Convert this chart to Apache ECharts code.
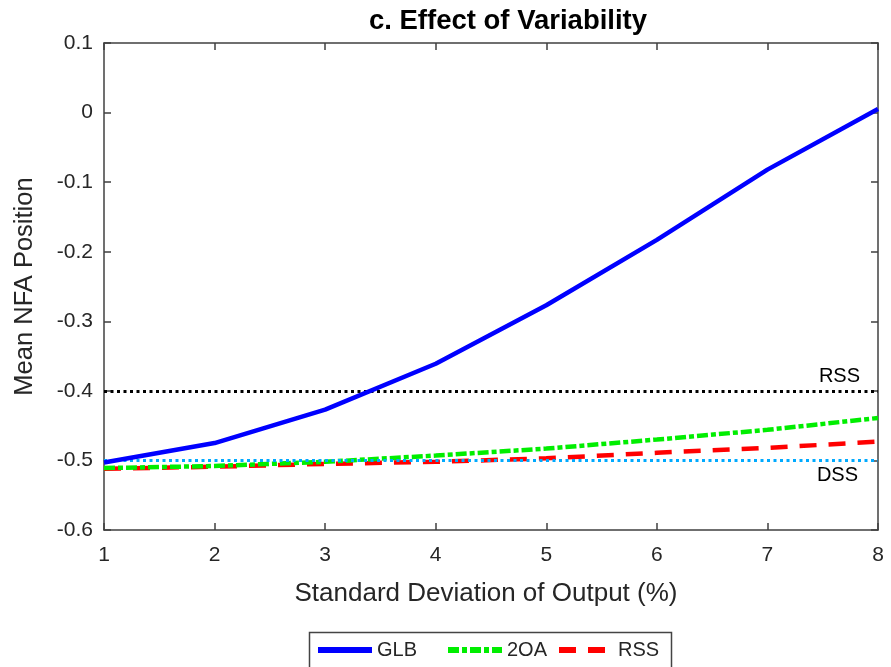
<!DOCTYPE html>
<html>
<head>
<meta charset="utf-8">
<script src="https://cdn.jsdelivr.net/npm/echarts@6/dist/echarts.min.js"></script>
<style>
  html, body { margin: 0; padding: 0; background: #fff; }
  #chart { width: 891px; height: 667px; }
</style>
</head>
<body>
<div id="chart"></div>
<script>
// Standard deviation of output (%)
const sdOutput = [1, 2, 3, 4, 5, 6, 7, 8];
// Mean NFA position for each model
const glb = [-0.503, -0.475, -0.427, -0.361, -0.277, -0.183, -0.082, 0.005];
const soa = [-0.511, -0.508, -0.502, -0.493, -0.483, -0.470, -0.456, -0.439];
const rss = [-0.512, -0.509, -0.505, -0.502, -0.497, -0.489, -0.482, -0.473];
// Steady-state reference levels
const rssLevel = -0.400;
const dssLevel = -0.496;
const seriesNames = ['GLB', '2OA', 'RSS'];

const pairs = ys => sdOutput.map((x, i) => [x, ys[i]]);
const FONT = '"Liberation Sans", Arial, Helvetica, sans-serif';
const INK = '#262626';
const AXIS = '#404040';

const chart = echarts.init(document.getElementById('chart'), null, { renderer: 'canvas' });

const yLabel = v => {
  const r = Math.round(v * 10) / 10;
  return r === 0 ? '0' : r.toFixed(1);
};

const boxAxisLine = { show: true, onZero: false, lineStyle: { color: AXIS, width: 1.5 } };
const boxTick = { show: true, inside: true, length: 7, lineStyle: { color: AXIS, width: 1.5 } };

// one legend entry per column inside a shared framed box
const legendColumns = [315, 445, 556];
const legends = seriesNames.map((n, i) => ({
  top: 640,
  left: legendColumns[i],
  padding: 0,
  itemWidth: 54,
  itemHeight: 10,
  itemStyle: { opacity: 0 },
  lineStyle: { width: 6 },
  textStyle: { fontFamily: FONT, fontSize: 20, color: INK },
  data: [n]
}));

chart.setOption({
  animation: false,
  backgroundColor: '#fff',
  title: {
    text: 'c. Effect of Variability',
    left: 503,
    textAlign: 'center',
    top: 2,
    textStyle: { fontFamily: FONT, fontSize: 27.5, fontWeight: 'bold', color: '#000' }
  },
  grid: { left: 104, right: 13, top: 43, bottom: 137, show: false },
  graphic: [{
    type: 'rect',
    left: 307,
    top: 630,
    shape: { width: 362, height: 60 },
    style: { fill: 'none', stroke: '#444', lineWidth: 1.5 },
    silent: true
  }],
  legend: legends,
  xAxis: [{
    type: 'value',
    min: 1, max: 8, interval: 1,
    name: 'Standard Deviation of Output (%)',
    nameLocation: 'middle',
    nameGap: 51,
    nameTextStyle: { fontFamily: FONT, fontSize: 26, color: INK, padding: [0, 10, 0, 0] },
    axisLine: boxAxisLine,
    axisTick: boxTick,
    axisLabel: { fontFamily: FONT, fontSize: 21, color: INK, margin: 15 },
    splitLine: { show: false }
  }, {
    type: 'value',
    position: 'top',
    min: 1, max: 8, interval: 1,
    axisLine: boxAxisLine,
    axisTick: boxTick,
    axisLabel: { show: false },
    splitLine: { show: false }
  }],
  yAxis: [{
    type: 'value',
    min: -0.6, max: 0.1, interval: 0.1,
    name: 'Mean NFA Position',
    nameLocation: 'middle',
    nameGap: 66,
    nameTextStyle: { fontFamily: FONT, fontSize: 25.5, color: INK },
    axisLine: boxAxisLine,
    axisTick: boxTick,
    axisLabel: { fontFamily: FONT, fontSize: 21, color: INK, margin: 11, formatter: yLabel },
    splitLine: { show: false }
  }, {
    type: 'value',
    position: 'right',
    min: -0.6, max: 0.1, interval: 0.1,
    axisLine: boxAxisLine,
    axisTick: boxTick,
    axisLabel: { show: false },
    splitLine: { show: false }
  }],
  series: [
    {
      name: seriesNames[0],
      type: 'line',
      data: pairs(glb),
      symbol: 'none',
      lineStyle: { color: '#0000ff', width: 4.5 },
      itemStyle: { color: '#0000ff' },
      z: 5
    },
    {
      name: seriesNames[1],
      type: 'line',
      data: pairs(soa),
      symbol: 'none',
      lineStyle: { color: '#00ee00', width: 4.5, type: [11, 3, 5, 3] },
      itemStyle: { color: '#00ee00' },
      z: 4
    },
    {
      name: seriesNames[2],
      type: 'line',
      data: pairs(rss),
      symbol: 'none',
      lineStyle: { color: '#ff0000', width: 4.5, type: [17, 12] },
      itemStyle: { color: '#ff0000' },
      z: 3,
      markLine: {
        silent: true,
        symbol: 'none',
        animation: false,
        data: [
          {
            yAxis: rssLevel,
            lineStyle: { color: '#000', width: 3, type: [3, 3.5] },
            label: {
              show: true, position: 'insideEndTop', formatter: 'RSS',
              fontFamily: FONT, fontSize: 20, color: '#000', distance: [18, 4]
            }
          },
          {
            yAxis: dssLevel,
            lineStyle: { color: '#00aaff', width: 3, type: [3, 3.5] },
            label: {
              show: true, position: 'insideEndBottom', formatter: 'DSS',
              fontFamily: FONT, fontSize: 20, color: '#000', distance: [20, 5]
            }
          }
        ]
      }
    }
  ]
});
</script>
</body>
</html>
